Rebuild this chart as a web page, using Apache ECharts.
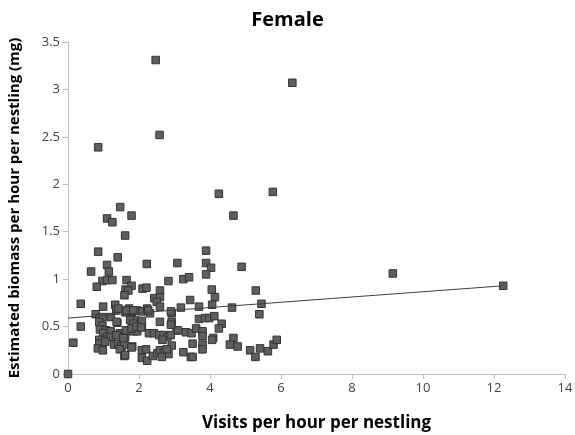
<!DOCTYPE html>
<html>
<head>
<meta charset="utf-8">
<script src="https://cdn.jsdelivr.net/npm/echarts@6/dist/echarts.min.js"></script>
<style>html,body{margin:0;padding:0;background:#fff;}#c{width:575px;height:435px;}</style>
</head>
<body>
<div id="c"></div>
<script>
const titleText = 'Female';
const xAxisName = 'Visits per hour per nestling';
const yAxisName = 'Estimated biomass per hour per nestling (mg)';
const xTicks = [0, 2, 4, 6, 8, 10, 12, 14];
const yTicks = [0, 0.5, 1, 1.5, 2, 2.5, 3, 3.5];

const visits = [
 0,0.15,0.36,0.36,0.65,0.85,0.85,2.47,2.58,1.47,1.10,1.25,1.79,1.61,1.40,1.10,1.15,2.22,3.08,
 0.97,1.10,1.25,0.81,1.65,1.62,1.79,1.70,1.59,2.10,2.21,2.83,2.59,2.43,2.59,2.50,2.59,
 0.99,1.33,1.36,0.78,0.89,0.98,1.21,0.88,0.97,0.90,1.07,1.20,0.99,1.09,1.20,0.99,0.88,0.88,1.05,0.84,0.98,
 1.30,1.42,1.51,1.59,1.46,1.59,1.81,1.46,1.61,1.63,1.39,1.62,1.72,1.79,1.77,1.89,1.81,1.94,1.84,1.95,
 2.08,2.08,1.95,2.10,2.23,2.31,2.59,2.92,2.92,3.06,2.28,2.42,2.57,2.69,2.80,2.66,2.92,
 2.08,2.20,2.08,2.23,2.39,2.52,2.59,2.70,2.83,2.78,2.64,
 1.42,1.65,1.84,2.26,1.37,1.75,1.84,1.79,1.93,2.06,1.37,1.56,1.79,1.61,
 4.66,3.89,3.89,4.03,4.89,3.89,3.25,3.41,4.05,4.14,5.29,3.44,4.06,5.45,3.69,3.18,4.62,2.90,5.39,
 3.69,3.86,3.98,4.12,4.33,4.25,2.90,3.10,3.32,3.48,3.61,3.79,3.79,2.89,4.09,4.06,4.66,4.56,4.78,
 3.51,3.79,3.79,3.25,3.46,3.51,5.13,5.41,5.28,5.63,5.79,5.88,
 6.32,4.25,5.77,9.15,12.26
];
const biomass = [
 0,0.33,0.50,0.74,1.08,1.29,2.39,3.31,2.52,1.76,1.64,1.60,1.67,1.46,1.23,1.15,1.08,1.16,1.17,
 0.98,0.99,0.99,0.92,0.99,0.89,0.93,0.88,0.83,0.90,0.91,0.98,0.88,0.80,0.81,0.76,0.71,
 0.71,0.73,0.68,0.63,0.59,0.60,0.60,0.55,0.51,0.47,0.46,0.45,0.43,0.39,0.39,0.36,0.36,0.32,0.34,0.27,0.25,
 0.31,0.32,0.29,0.31,0.26,0.19,0.29,0.43,0.39,0.46,0.54,0.65,0.69,0.63,0.58,0.57,0.52,0.52,0.45,0.45,
 0.50,0.56,0.67,0.66,0.69,0.64,0.55,0.64,0.55,0.46,0.43,0.43,0.41,0.41,0.39,0.36,0.30,
 0.25,0.26,0.17,0.14,0.19,0.22,0.25,0.22,0.21,0.26,0.18,
 0.69,0.67,0.67,0.67,0.55,0.57,0.53,0.48,0.50,0.49,0.41,0.38,0.28,0.20,
 1.67,1.30,1.17,1.12,1.13,1.05,1.00,1.02,0.89,0.81,0.88,0.78,0.73,0.74,0.71,0.70,0.70,0.66,0.63,
 0.58,0.59,0.59,0.61,0.53,0.48,0.52,0.46,0.44,0.43,0.48,0.45,0.40,0.41,0.38,0.36,0.38,0.31,0.29,
 0.32,0.31,0.26,0.23,0.18,0.18,0.25,0.27,0.18,0.24,0.31,0.36,
 3.07,1.90,1.92,1.06,0.93
];
const trendX = [0, 12.26];
const trendY = [0.59, 0.93];

const points = visits.map((v, i) => [v, biomass[i]]);
const trend = trendX.map((v, i) => [v, trendY[i]]);

const FONT = '"Open Sans", "Liberation Sans", sans-serif';
const chart = echarts.init(document.getElementById('c'), null, {renderer: 'canvas'});
chart.setOption({
  animation: false,
  backgroundColor: '#ffffff',
  title: {
    text: titleText, left: 'center', top: 5,
    textStyle: {fontFamily: FONT, fontSize: 20, fontWeight: 'bold', color: '#000'}
  },
  grid: {left: 68, right: 10, top: 42, bottom: 61, containLabel: false, outerBoundsMode: 'none'},
  xAxis: {
    type: 'value', min: xTicks[0], max: xTicks[xTicks.length - 1], interval: 2,
    name: xAxisName, nameLocation: 'middle', nameGap: 41,
    nameTextStyle: {fontFamily: FONT, fontSize: 17, fontWeight: 'bold', color: '#000'},
    axisLine: {show: true, lineStyle: {color: '#bfbfbf', width: 1}},
    axisTick: {show: true, length: 5, lineStyle: {color: '#bfbfbf'}},
    axisLabel: {fontFamily: FONT, fontSize: 13, color: '#404040', margin: 8},
    splitLine: {show: false}
  },
  yAxis: {
    type: 'value', min: yTicks[0], max: yTicks[yTicks.length - 1], interval: 0.5,
    name: yAxisName, nameLocation: 'middle', nameGap: 46,
    nameTextStyle: {fontFamily: FONT, fontSize: 15, fontWeight: 'bold', color: '#000'},
    axisLine: {show: true, lineStyle: {color: '#bfbfbf', width: 1}},
    axisTick: {show: true, length: 5, lineStyle: {color: '#bfbfbf'}},
    axisLabel: {fontFamily: FONT, fontSize: 13, color: '#404040', margin: 8},
    splitLine: {show: false}
  },
  series: [
    {
      type: 'scatter', data: points, symbol: 'rect', symbolSize: 7.5,
      itemStyle: {color: '#5f5f5f', borderColor: '#333333', borderWidth: 1, opacity: 1},
      z: 2
    },
    {
      type: 'line', data: trend, showSymbol: false, symbol: 'none',
      lineStyle: {color: '#404040', width: 1},
      z: 3, silent: true
    }
  ]
});
</script>
</body>
</html>
